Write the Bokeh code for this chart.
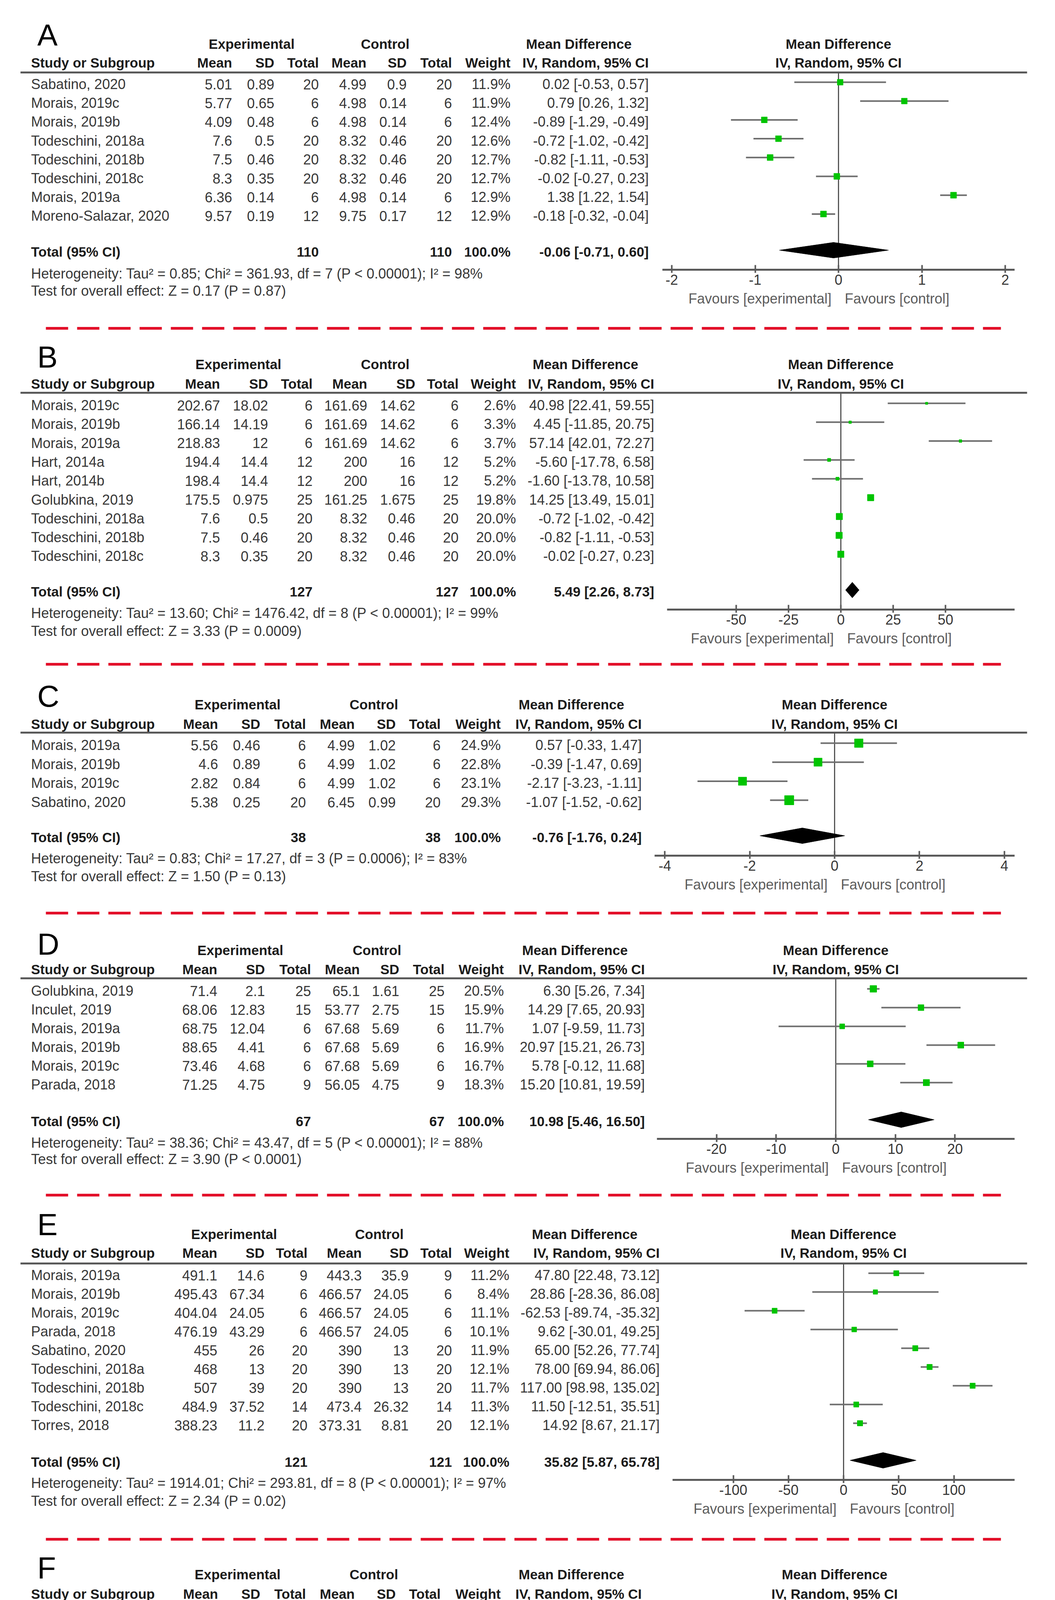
import math
from bokeh.plotting import figure
from bokeh.models import Range1d, LinearAxis, FixedTicker
from bokeh.core.properties import value
from bokeh.embed import file_html
from bokeh.resources import INLINE

FONT = "Liberation Sans"

# ---------------- DATA ----------------
# Panel A
A_study = ["Sabatino, 2020", "Morais, 2019c", "Morais, 2019b", "Todeschini, 2018a",
           "Todeschini, 2018b", "Todeschini, 2018c", "Morais, 2019a", "Moreno-Salazar, 2020"]
A_exp_mean = [5.01, 5.77, 4.09, 7.6, 7.5, 8.3, 6.36, 9.57]
A_exp_sd = [0.89, 0.65, 0.48, 0.5, 0.46, 0.35, 0.14, 0.19]
A_exp_n = [20, 6, 6, 20, 20, 20, 6, 12]
A_ctl_mean = [4.99, 4.98, 4.98, 8.32, 8.32, 8.32, 4.98, 9.75]
A_ctl_sd = [0.9, 0.14, 0.14, 0.46, 0.46, 0.46, 0.14, 0.17]
A_ctl_n = [20, 6, 6, 20, 20, 20, 6, 12]
A_weight = [11.9, 11.9, 12.4, 12.6, 12.7, 12.7, 12.9, 12.9]
A_md = [0.02, 0.79, -0.89, -0.72, -0.82, -0.02, 1.38, -0.18]
A_lo = [-0.53, 0.26, -1.29, -1.02, -1.11, -0.27, 1.22, -0.32]
A_hi = [0.57, 1.32, -0.49, -0.42, -0.53, 0.23, 1.54, -0.04]
A_total = [-0.06, -0.71, 0.60]
A_het = "Heterogeneity: Tau² = 0.85; Chi² = 361.93, df = 7 (P < 0.00001); I² = 98%"
A_effect = "Test for overall effect: Z = 0.17 (P = 0.87)"
A_ticks = [-2, -1, 0, 1, 2]

# Panel B
B_study = ["Morais, 2019c", "Morais, 2019b", "Morais, 2019a", "Hart, 2014a", "Hart, 2014b",
           "Golubkina, 2019", "Todeschini, 2018a", "Todeschini, 2018b", "Todeschini, 2018c"]
B_exp_mean = [202.67, 166.14, 218.83, 194.4, 198.4, 175.5, 7.6, 7.5, 8.3]
B_exp_sd = [18.02, 14.19, 12, 14.4, 14.4, 0.975, 0.5, 0.46, 0.35]
B_exp_n = [6, 6, 6, 12, 12, 25, 20, 20, 20]
B_ctl_mean = [161.69, 161.69, 161.69, 200, 200, 161.25, 8.32, 8.32, 8.32]
B_ctl_sd = [14.62, 14.62, 14.62, 16, 16, 1.675, 0.46, 0.46, 0.46]
B_ctl_n = [6, 6, 6, 12, 12, 25, 20, 20, 20]
B_weight = [2.6, 3.3, 3.7, 5.2, 5.2, 19.8, 20.0, 20.0, 20.0]
B_md = [40.98, 4.45, 57.14, -5.60, -1.60, 14.25, -0.72, -0.82, -0.02]
B_lo = [22.41, -11.85, 42.01, -17.78, -13.78, 13.49, -1.02, -1.11, -0.27]
B_hi = [59.55, 20.75, 72.27, 6.58, 10.58, 15.01, -0.42, -0.53, 0.23]
B_total = [5.49, 2.26, 8.73]
B_het = "Heterogeneity: Tau² = 13.60; Chi² = 1476.42, df = 8 (P < 0.00001); I² = 99%"
B_effect = "Test for overall effect: Z = 3.33 (P = 0.0009)"
B_ticks = [-50, -25, 0, 25, 50]

# Panel C
C_study = ["Morais, 2019a", "Morais, 2019b", "Morais, 2019c", "Sabatino, 2020"]
C_exp_mean = [5.56, 4.6, 2.82, 5.38]
C_exp_sd = [0.46, 0.89, 0.84, 0.25]
C_exp_n = [6, 6, 6, 20]
C_ctl_mean = [4.99, 4.99, 4.99, 6.45]
C_ctl_sd = [1.02, 1.02, 1.02, 0.99]
C_ctl_n = [6, 6, 6, 20]
C_weight = [24.9, 22.8, 23.1, 29.3]
C_md = [0.57, -0.39, -2.17, -1.07]
C_lo = [-0.33, -1.47, -3.23, -1.52]
C_hi = [1.47, 0.69, -1.11, -0.62]
C_total = [-0.76, -1.76, 0.24]
C_het = "Heterogeneity: Tau² = 0.83; Chi² = 17.27, df = 3 (P = 0.0006); I² = 83%"
C_effect = "Test for overall effect: Z = 1.50 (P = 0.13)"
C_ticks = [-4, -2, 0, 2, 4]

# Panel D
D_study = ["Golubkina, 2019", "Inculet, 2019", "Morais, 2019a", "Morais, 2019b",
           "Morais, 2019c", "Parada, 2018"]
D_exp_mean = [71.4, 68.06, 68.75, 88.65, 73.46, 71.25]
D_exp_sd = [2.1, 12.83, 12.04, 4.41, 4.68, 4.75]
D_exp_n = [25, 15, 6, 6, 6, 9]
D_ctl_mean = [65.1, 53.77, 67.68, 67.68, 67.68, 56.05]
D_ctl_sd = [1.61, 2.75, 5.69, 5.69, 5.69, 4.75]
D_ctl_n = [25, 15, 6, 6, 6, 9]
D_weight = [20.5, 15.9, 11.7, 16.9, 16.7, 18.3]
D_md = [6.30, 14.29, 1.07, 20.97, 5.78, 15.20]
D_lo = [5.26, 7.65, -9.59, 15.21, -0.12, 10.81]
D_hi = [7.34, 20.93, 11.73, 26.73, 11.68, 19.59]
D_total = [10.98, 5.46, 16.50]
D_het = "Heterogeneity: Tau² = 38.36; Chi² = 43.47, df = 5 (P < 0.00001); I² = 88%"
D_effect = "Test for overall effect: Z = 3.90 (P < 0.0001)"
D_ticks = [-20, -10, 0, 10, 20]

# Panel E
E_study = ["Morais, 2019a", "Morais, 2019b", "Morais, 2019c", "Parada, 2018", "Sabatino, 2020",
           "Todeschini, 2018a", "Todeschini, 2018b", "Todeschini, 2018c", "Torres, 2018"]
E_exp_mean = [491.1, 495.43, 404.04, 476.19, 455, 468, 507, 484.9, 388.23]
E_exp_sd = [14.6, 67.34, 24.05, 43.29, 26, 13, 39, 37.52, 11.2]
E_exp_n = [9, 6, 6, 6, 20, 20, 20, 14, 20]
E_ctl_mean = [443.3, 466.57, 466.57, 466.57, 390, 390, 390, 473.4, 373.31]
E_ctl_sd = [35.9, 24.05, 24.05, 24.05, 13, 13, 13, 26.32, 8.81]
E_ctl_n = [9, 6, 6, 6, 20, 20, 20, 14, 20]
E_weight = [11.2, 8.4, 11.1, 10.1, 11.9, 12.1, 11.7, 11.3, 12.1]
E_md = [47.80, 28.86, -62.53, 9.62, 65.00, 78.00, 117.00, 11.50, 14.92]
E_lo = [22.48, -28.36, -89.74, -30.01, 52.26, 69.94, 98.98, -12.51, 8.67]
E_hi = [73.12, 86.08, -35.32, 49.25, 77.74, 86.06, 135.02, 35.51, 21.17]
E_total = [35.82, 5.87, 65.78]
E_het = "Heterogeneity: Tau² = 1914.01; Chi² = 293.81, df = 8 (P < 0.00001); I² = 97%"
E_effect = "Test for overall effect: Z = 2.34 (P = 0.02)"
E_ticks = [-100, -50, 0, 50, 100]

# Panel F
F_study = ["Golubkina, 2019", "Inculet, 2019", "Parada, 2018", "Torres, 2018"]
F_exp_mean = [17.5, 18.79, 20.23, 29.52]
F_exp_sd = [0.53, 0.98, 5.14, 1.23]
F_exp_n = [25, 15, 9, 14]
F_ctl_mean = [16.2, 17.18, 21.36, 29.53]
F_ctl_sd = [0.47, 0.92, 2.14, 0.98]
F_ctl_n = [25, 15, 9, 14]
F_weight = [38.3, 30.5, 3.9, 27.3]
F_md = [1.30, 1.61, -1.13, -0.01]
F_lo = [1.02, 0.93, -4.77, -0.83]
F_hi = [1.58, 2.29, 2.51, 0.81]
F_total = [0.94, 0.19, 1.70]
F_het = "Heterogeneity: Tau² = 0.37; Chi² = 11.75, df = 3 (P = 0.008); I² = 74%"
F_effect = "Test for overall effect: Z = 2.44 (P = 0.01)"
F_ticks = [-4, -2, 0, 2, 4]

COL_HEADERS = ["Mean", "SD", "Total", "Mean", "SD", "Total", "Weight", "IV, Random, 95% CI"]
GROUP_HEADERS = ["Experimental", "Control", "Mean Difference"]
TOTAL_WEIGHT = "100.0%"

def pack(tag):
    g = globals()
    keys = ["study", "exp_mean", "exp_sd", "exp_n", "ctl_mean", "ctl_sd", "ctl_n",
            "weight", "md", "lo", "hi", "total", "het", "effect", "ticks"]
    return {k: g[f"{tag}_{k}"] for k in keys}

# ---------------- LAYOUT (reference pixel coordinates) ----------------
LAYOUT = {
    "A": dict(sep=None, letter=97, grp=120, col=168, line=193, row0=218, step=48.2, total=648,
              het=708, test=752, axis=698, cols=[602, 710, 824, 946, 1049, 1165, 1315, 1669],
              grp_x=[652, 994, 1490], zero=2155, scale=213.5, k=4.3),
    "B": dict(sep=848, letter=921, grp=940, col=990, line=1013, row0=1040, step=48.3, total=1518,
              het=1577, test=1623, axis=1568, cols=[571, 694, 808, 948, 1071, 1182, 1329, 1683],
              grp_x=[618, 994, 1507], zero=2161, scale=5.36, k=3.7),
    "C": dict(sep=1708, letter=1789, grp=1811, col=1861, line=1883, row0=1910, step=48.7, total=2147,
              het=2205, test=2251, axis=2198, cols=[566, 674, 791, 916, 1021, 1136, 1290, 1651],
              grp_x=[616, 965, 1471], zero=2145, scale=108.7, k=4.4),
    "D": dict(sep=2345, letter=2424, grp=2440, col=2489, line=2512, row0=2539, step=48.0, total=2874,
              het=2933, test=2975, axis=2923, cols=[564, 686, 804, 929, 1030, 1146, 1298, 1659],
              grp_x=[623, 973, 1480], zero=2148, scale=15.27, k=3.8),
    "E": dict(sep=3067, letter=3142, grp=3167, col=3215, line=3242, row0=3267, step=48.0, total=3746,
              het=3804, test=3850, axis=3796, cols=[564, 685, 795, 934, 1054, 1165, 1312, 1697],
              grp_x=[607, 979, 1505], zero=2168, scale=2.825, k=4.0),
    "F": dict(sep=3948, letter=4021, grp=4038, col=4088, line=4111, row0=4137, step=47.7, total=4375,
              het=4432, test=4480, axis=4424, cols=[566, 674, 791, 916, 1021, 1136, 1290, 1651],
              grp_x=[616, 965, 1471], zero=2145, scale=61.0, k=4.3),
}

X0, X1, Y0, Y1 = 8, 2694, 8, 4563
TXT = "#383838"
BOLD = "#1c1c1c"
GRAY = "#5c5c5c"

p = figure(width=X1 - X0, height=Y1 - Y0, x_range=Range1d(X0, X1), y_range=Range1d(Y1, Y0),
           output_backend="svg", toolbar_location=None, x_axis_type=None, y_axis_type=None,
           min_border=0)
p.outline_line_color = None
p.background_fill_color = "white"
p.border_fill_color = "white"

def fmt(v):
    return f"{v:g}"

def txt(x, y, text, align="left", bold=False, size="36px", color=None, **kw):
    p.text(x=x, y=y, text=text, text_font=value(FONT), text_font_size=size,
           text_font_style="bold" if bold else "normal", text_align=align,
           text_baseline="middle", text_color=color or (BOLD if bold else TXT), **kw)

extra = {}
for tag in "ABCDEF":
    L = LAYOUT[tag]
    extra[f"f{tag}"] = Range1d((X0 - L["zero"]) / L["scale"], (X1 - L["zero"]) / L["scale"])
p.extra_x_ranges = extra

for tag in "ABCDEF":
    d = pack(tag)
    L = LAYOUT[tag]
    rn = f"f{tag}"
    n = len(d["study"])
    rows = [L["row0"] + i * L["step"] for i in range(n)]
    trow = [r + 5 for r in rows]

    # separator
    if L["sep"] is not None:
        p.segment(x0=[125], y0=[L["sep"]], x1=[2571], y1=[L["sep"]], line_color="#e3102a",
                  line_width=7, line_dash="57 23")

    # panel letter
    txt([103], [L["letter"]], [tag], size="78px", color="black")

    # group headers
    gx = L["grp_x"]
    txt(gx, [L["grp"]] * 3, GROUP_HEADERS, align="center", bold=True, size="35px")
    # column headers
    txt([87], [L["col"]], ["Study or Subgroup"], bold=True, size="35px")
    txt(L["cols"], [L["col"]] * 8, COL_HEADERS, align="right", bold=True, size="35px")
    # header rule
    p.segment(x0=[60], y0=[L["line"]], x1=[2638], y1=[L["line"]], line_color="#5a5a5a",
              line_width=5)

    # study rows
    txt([87] * n, trow, d["study"])
    columns = [
        [fmt(v) for v in d["exp_mean"]], [fmt(v) for v in d["exp_sd"]], [str(v) for v in d["exp_n"]],
        [fmt(v) for v in d["ctl_mean"]], [fmt(v) for v in d["ctl_sd"]], [str(v) for v in d["ctl_n"]],
        [f"{w:.1f}%" for w in d["weight"]],
        [f"{m:.2f} [{a:.2f}, {b:.2f}]" for m, a, b in zip(d["md"], d["lo"], d["hi"])],
    ]
    for cx, vals in zip(L["cols"], columns):
        txt([cx] * n, trow, vals, align="right")

    # total row
    ty = L["total"] + 4
    tm, tl, th = d["total"]
    txt([87], [ty], ["Total (95% CI)"], bold=True, size="35px")
    txt([L["cols"][2], L["cols"][5], L["cols"][6], L["cols"][7]], [ty] * 4,
        [str(sum(d["exp_n"])), str(sum(d["ctl_n"])), TOTAL_WEIGHT,
         f"{tm:.2f} [{tl:.2f}, {th:.2f}]"], align="right", bold=True, size="35px")
    txt([87, 87], [L["het"], L["test"]], [d["het"], d["effect"]])

    # forest header
    txt([0, 0], [L["grp"], L["col"]], ["Mean Difference", "IV, Random, 95% CI"], align="center",
        bold=True, size="35px", x_range_name=rn)

    # zero line
    p.segment(x0=[0], y0=[L["line"]], x1=[0], y1=[L["axis"]], x_range_name=rn,
              line_color="#555555", line_width=3)
    # whiskers
    p.segment(x0=d["lo"], y0=rows, x1=d["hi"], y1=rows, x_range_name=rn,
              line_color="#6e6e6e", line_width=4)
    # study markers
    sizes = [L["k"] * math.sqrt(w) for w in d["weight"]]
    p.scatter(x=d["md"], y=rows, size=sizes, marker="square", fill_color="#00c400",
              line_color="#00c400", line_width=1, x_range_name=rn)
    # pooled diamond
    dy = L["total"]
    p.patch(x=[tl, tm, th, tm], y=[dy, dy - 20, dy, dy + 20], x_range_name=rn,
            fill_color="black", line_color="black", line_width=1)

    # axis
    bound = (2606 - L["zero"]) / L["scale"]
    ax = LinearAxis(x_range_name=rn, fixed_location=L["axis"], bounds=(-bound, bound),
                    ticker=FixedTicker(ticks=d["ticks"]),
                    major_label_overrides={t: f"{t:g}" for t in d["ticks"]})
    ax.axis_line_color = "#5a5a5a"
    ax.axis_line_width = 5
    ax.major_tick_line_color = "#5a5a5a"
    ax.major_tick_line_width = 4
    ax.major_tick_in = 12
    ax.major_tick_out = 8
    ax.minor_tick_line_color = None
    ax.major_label_text_font = FONT
    ax.major_label_text_font_size = "36px"
    ax.major_label_text_color = TXT
    ax.major_label_standoff = 4
    p.add_layout(ax, "below")

    # favours labels
    fy = L["axis"] + 74
    txt([0], [fy], ["Favours [experimental]"], align="right", color=GRAY, x_range_name=rn,
        x_offset=-18)
    txt([0], [fy], ["Favours [control]"], align="left", color=GRAY, x_range_name=rn,
        x_offset=16)

open("out.html", "w").write(file_html(p, INLINE))
